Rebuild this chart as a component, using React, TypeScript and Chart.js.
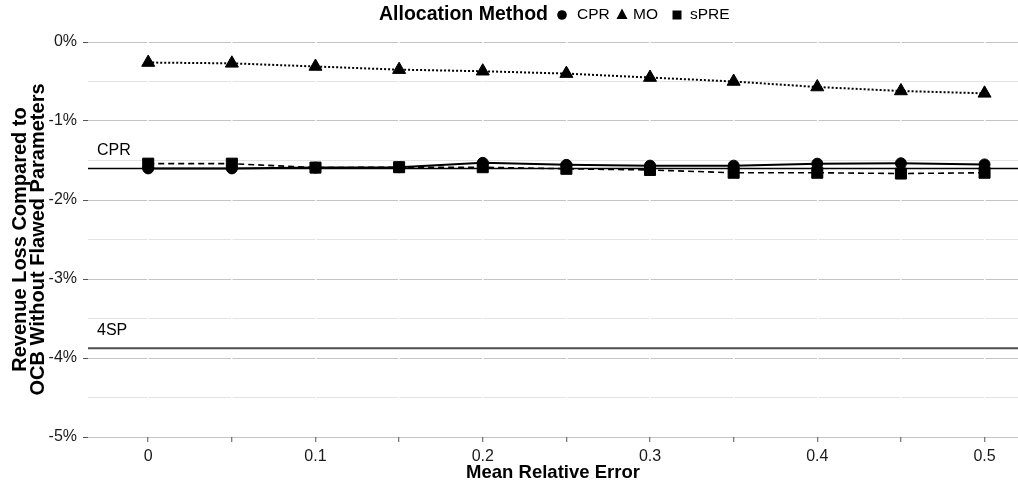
import React, { useEffect, useRef } from 'react';
import { Chart, registerables } from 'chart.js';

Chart.register(...registerables);

// ---- data ----
const meanRelativeError = [0, 0.05, 0.1, 0.15, 0.2, 0.25, 0.3, 0.35, 0.4, 0.45, 0.5];
const cprValues = [-1.6, -1.6, -1.59, -1.585, -1.53, -1.555, -1.565, -1.565, -1.54, -1.535, -1.55];
const moValues = [-0.26, -0.27, -0.31, -0.35, -0.37, -0.4, -0.45, -0.5, -0.57, -0.62, -0.65];
const spreValues = [-1.54, -1.54, -1.59, -1.585, -1.585, -1.605, -1.62, -1.655, -1.655, -1.665, -1.655];
const referenceNames = ['CPR', '4SP'];
const referenceValues = [-1.6, -3.875];
const xTickValues = [0, 0.05, 0.1, 0.15, 0.2, 0.25, 0.3, 0.35, 0.4, 0.45, 0.5];
const yTickValues = [0, -0.5, -1, -1.5, -2, -2.5, -3, -3.5, -4, -4.5, -5];
const legendTitle = 'Allocation Method';
const seriesLabels = ['CPR', 'MO', 'sPRE'];

const X_MIN = -0.036;
const X_MAX = 0.52;
const FONT = '"Liberation Sans", Arial, Helvetica, sans-serif';

function drawMarker(ctx: CanvasRenderingContext2D, style: string, cx: number, cy: number) {
  ctx.beginPath();
  if (style === 'circle') {
    ctx.arc(cx, cy, 4.8, 0, Math.PI * 2);
  } else if (style === 'triangle') {
    ctx.moveTo(cx, cy - 6.5);
    ctx.lineTo(cx + 5.5, cy + 4);
    ctx.lineTo(cx - 5.5, cy + 4);
    ctx.closePath();
  } else {
    ctx.rect(cx - 4.5, cy - 4.5, 9, 9);
  }
  ctx.fill();
}

const overlayPlugin = {
  id: 'overlay',
  afterDatasetsDraw(chart: any) {
    const ctx = chart.ctx as CanvasRenderingContext2D;
    const yScale = chart.scales.y;
    const area = chart.chartArea;
    ctx.save();
    ctx.fillStyle = '#000';
    ctx.font = `16px ${FONT}`;
    ctx.textAlign = 'left';
    ctx.textBaseline = 'middle';
    referenceNames.forEach((name, i) => {
      const py = yScale.getPixelForValue(referenceValues[i]);
      ctx.fillText(name, area.left + 9, py - 18);
    });
    ctx.restore();
  },
  afterDraw(chart: any) {
    const ctx = chart.ctx as CanvasRenderingContext2D;
    ctx.save();
    ctx.fillStyle = '#000';
    ctx.textBaseline = 'middle';
    const cy = 15;
    ctx.font = `bold 19.5px ${FONT}`;
    ctx.textAlign = 'right';
    ctx.fillText(legendTitle, 548, cy);
    ctx.textAlign = 'left';
    ctx.font = `15.5px ${FONT}`;
    const styles = ['circle', 'triangle', 'rect'];
    const markerX = [562, 622, 677];
    const textX = [577, 633, 690];
    seriesLabels.forEach((label, i) => {
      drawMarker(ctx, styles[i], markerX[i], cy);
      ctx.fillText(label, textX[i], cy);
    });
    ctx.restore();
  },
};

const toPoints = (vals: number[]) => vals.map((v, i) => ({ x: meanRelativeError[i], y: v }));

export default function App() {
  const canvasRef = useRef<HTMLCanvasElement | null>(null);

  useEffect(() => {
    if (!canvasRef.current) return;
    const refDatasets = referenceNames.map((name, i) => ({
      label: name + ' reference',
      data: [
        { x: X_MIN, y: referenceValues[i] },
        { x: X_MAX, y: referenceValues[i] },
      ],
      borderColor: i === 0 ? '#000000' : '#4d4d4d',
      borderWidth: i === 0 ? 1.5 : 2,
      pointRadius: 0,
      fill: false,
    }));

    const chart = new Chart(canvasRef.current, {
      type: 'line',
      data: {
        datasets: [
          {
            label: seriesLabels[0],
            data: toPoints(cprValues),
            borderColor: '#000',
            backgroundColor: '#000',
            borderWidth: 2,
            pointStyle: 'circle',
            pointRadius: 5.5,
            pointBorderWidth: 1,
            pointBackgroundColor: '#000',
            pointBorderColor: '#000',
            fill: false,
          },
          {
            label: seriesLabels[1],
            data: toPoints(moValues),
            borderColor: '#000',
            backgroundColor: '#000',
            borderWidth: 2,
            borderDash: [2, 2],
            pointStyle: 'triangle',
            pointRadius: 7.5,
            pointBorderWidth: 1,
            pointBackgroundColor: '#000',
            pointBorderColor: '#000',
            fill: false,
          },
          {
            label: seriesLabels[2],
            data: toPoints(spreValues),
            borderColor: '#000',
            backgroundColor: '#000',
            borderWidth: 1.6,
            borderDash: [6, 4],
            pointStyle: 'rect',
            pointRadius: 7.8,
            pointBorderWidth: 1,
            pointBackgroundColor: '#000',
            pointBorderColor: '#000',
            fill: false,
          },
          ...refDatasets,
        ],
      },
      options: {
        responsive: false,
        animation: false,
        layout: { autoPadding: false, padding: { top: 42, left: 0, right: 0, bottom: 0 } },
        plugins: {
          legend: { display: false },
          tooltip: { enabled: false },
        },
        scales: {
          x: {
            type: 'linear',
            min: X_MIN,
            max: X_MAX,
            afterBuildTicks: (scale: any) => {
              scale.ticks = xTickValues.map((v) => ({ value: v }));
            },
            afterFit: (scale: any) => {
              scale.height = 49;
              scale.paddingLeft = 0;
              scale.paddingRight = 0;
            },
            border: { display: false },
            grid: {
              z: 0,
              color: '#ffffff',
              lineWidth: 1.5,
              drawTicks: true,
              tickLength: 5,
              tickColor: '#555555',
              tickWidth: 1,
            },
            ticks: {
              autoSkip: false,
              maxRotation: 0,
              padding: 5,
              color: '#1a1a1a',
              font: { family: FONT, size: 16 },
              callback: (value: any) => {
                const v = Number(value);
                const h = Math.round(v * 100);
                return h % 10 === 0 ? String(h / 100) : '';
              },
            },
            title: {
              display: true,
              text: 'Mean Relative Error',
              color: '#000',
              font: { family: FONT, size: 18.5, weight: 'bold', lineHeight: 1.2 },
              padding: { top: 0, bottom: 2 },
            },
          },
          y: {
            type: 'linear',
            min: -5,
            max: 0,
            afterBuildTicks: (scale: any) => {
              scale.ticks = yTickValues.map((v) => ({ value: v }));
            },
            afterFit: (scale: any) => {
              scale.width = 88;
              scale.paddingTop = 0;
              scale.paddingBottom = 0;
            },
            border: { display: false },
            grid: {
              z: -1,
              color: (ctx: any) => (ctx.tick && Number.isInteger(ctx.tick.value) ? '#c4c4c4' : '#e3e3e3'),
              lineWidth: 1,
              drawTicks: true,
              tickLength: 5,
              tickColor: (ctx: any) =>
                ctx.tick && Number.isInteger(ctx.tick.value) ? '#555555' : 'rgba(0,0,0,0)',
              tickWidth: 1,
            },
            ticks: {
              autoSkip: false,
              padding: 6,
              color: '#1a1a1a',
              font: { family: FONT, size: 16 },
              callback: (value: any) => {
                const v = Number(value);
                if (!Number.isInteger(v)) return '';
                return (v === 0 ? '0' : String(v)) + '%';
              },
            },
            title: {
              display: true,
              text: ['Revenue Loss Compared to', 'OCB Without Flawed Parameters'],
              color: '#000',
              font: { family: FONT, size: 20, weight: 'bold', lineHeight: 0.9 },
              padding: { top: 11, bottom: 0 },
            },
          },
        },
      },
      plugins: [overlayPlugin],
    } as any);

    return () => {
      chart.destroy();
    };
  }, []);

  return (
    <div style={{ position: 'absolute', left: 0, top: 0, width: 1018, height: 486, background: '#fff' }}>
      <canvas ref={canvasRef} width={1018} height={486} style={{ display: 'block' }} />
    </div>
  );
}
